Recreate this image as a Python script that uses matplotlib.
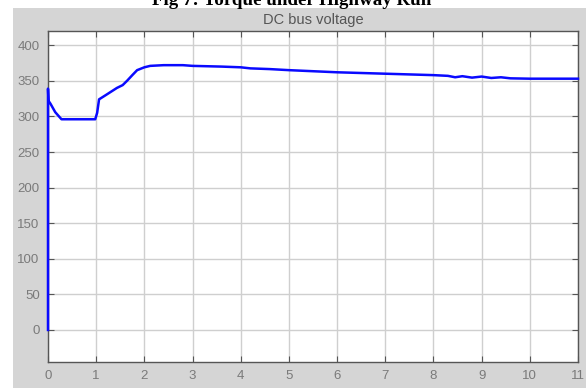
import matplotlib
matplotlib.use("Agg")
import matplotlib.pyplot as plt
from matplotlib.patches import Rectangle

# Data
t = [0, 0, 0.01, 0.05, 0.15, 0.28, 0.6, 0.98, 1.02, 1.06, 1.2, 1.43, 1.55, 1.64,
     1.75, 1.85, 2.0, 2.12, 2.4, 2.8, 3.0, 3.6, 4.0, 4.2, 4.6, 5.0, 5.5, 6.0, 6.5,
     7.0, 7.5, 8.0, 8.3, 8.45, 8.6, 8.8, 9.0, 9.2, 9.4, 9.6, 10.0, 10.5, 11]
v = [0, 339, 322, 318, 306, 296, 296, 296, 305, 324, 330, 340, 344, 350,
     358, 365, 369, 371, 372, 372, 371, 370, 369, 367.5, 366.5, 365, 363.5, 362, 361,
     360, 359, 358, 357, 355, 356.5, 354.5, 356, 354, 355, 353.5, 353, 353, 353]

xticks = list(range(0, 12))
yticks = [0, 50, 100, 150, 200, 250, 300, 350, 400]

W, H = 586, 388
fig = plt.figure(figsize=(W / 100, H / 100), dpi=100)
fig.patch.set_facecolor("white")

# grey MATLAB-like figure background
fig.patches.append(Rectangle((13 / W, 0), 1 - 13 / W, (H - 8) / H,
                             transform=fig.transFigure, facecolor="#d5d5d5",
                             edgecolor="none", zorder=-10))

# caption at the very top (cut by the top edge, as in the reference)
fig.text(292 / W, 1 - 5 / H, "Fig 7: Torque under Highway Run",
         family="Liberation Serif", fontweight="bold", fontsize=13.7,
         ha="center", va="baseline", color="black")

ax = fig.add_axes([48 / W, 1 - 362 / H, (578 - 48) / W, (362 - 31) / H])
ax.set_facecolor("white")
ax.plot(t, v, color="#0a0aff", lw=1.8, solid_joinstyle="round",
        clip_on=False, zorder=3)

ax.set_xlim(0, 11)
ax.set_ylim(-45, 420)
ax.set_xticks(xticks)
ax.set_yticks(yticks)
ax.grid(True, color="#cfcfcf", lw=1.0)
ax.set_axisbelow(True)
ax.tick_params(direction="in", length=4, top=True, right=True,
               colors="#555555", labelcolor="#7a7a7a", labelsize=9.5, pad=6)
for lab in ax.get_xticklabels() + ax.get_yticklabels():
    lab.set_family("Liberation Sans")
for s in ax.spines.values():
    s.set_color("#555555")
    s.set_linewidth(1.0)

ax.set_title("DC bus voltage", fontsize=10.5, color="#555555", pad=5,
             family="Liberation Sans")

fig.savefig("out.png", dpi=100)
